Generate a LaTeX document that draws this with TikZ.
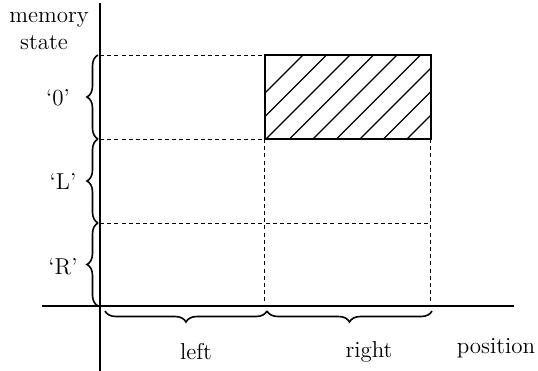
\documentclass[tikz,border=0pt]{standalone}
\usetikzlibrary{decorations.pathreplacing}
\begin{document}
\begin{tikzpicture}[x=0.5pt,y=-0.5pt,
  axis/.style={line width=1.1pt},
  grid/.style={line width=0.5pt,dash pattern=on 2pt off 1.6pt},
  box/.style={line width=0.8pt},
  hatch/.style={line width=0.55pt},
  brc/.style={line width=0.8pt,decorate,decoration={brace,amplitude=5.5pt}},
  lbl/.style={inner sep=0pt,font=\fontsize{11.5}{13}\selectfont}]
\useasboundingbox (0,0) rectangle (538,371);
% coordinates
\coordinate (yt) at (100,3);
\coordinate (yb) at (100,371);
\coordinate (xl) at (42,306);
\coordinate (xr) at (514,306);
\coordinate (a0) at (100,55);
\coordinate (a1) at (100,139);
\coordinate (a2) at (100,223);
\coordinate (m0) at (265,55);
\coordinate (m1) at (265,139);
\coordinate (m2) at (265,223);
\coordinate (m3) at (265,306);
\coordinate (r0) at (431,55);
\coordinate (r1) at (431,139);
\coordinate (r2) at (431,223);
\coordinate (r3) at (431,306);
% dashed grid
\draw[grid] (a0) -- (m0);
\draw[grid] (a1) -- (m1);
\draw[grid] (a2) -- (r2);
\draw[grid] (m1) -- (m3);
\draw[grid] (r1) -- (r3);
% hatched box
\begin{scope}
\clip (m0) rectangle (r1);
\foreach \k in {0,...,9}
  \draw[hatch] (219+23.5*\k,139) -- ++(84,-84);
\end{scope}
\draw[box] (m0) rectangle (r1);
% axes
\draw[axis] (yt) -- (yb);
\draw[axis] (xl) -- (xr);
% left braces
\coordinate (b0) at (98,55);
\coordinate (b1) at (98,139);
\coordinate (b2) at (98,223);
\coordinate (b3) at (98,306);
\draw[brc] (b1) -- (b0);
\draw[brc] (b2) -- (b1);
\draw[brc] (b3) -- (b2);
% bottom braces
\coordinate (c0) at (105,311);
\coordinate (c1) at (267,311);
\coordinate (c2) at (432,311);
\draw[brc] (c1) -- (c0);
\draw[brc] (c2) -- (c1);
% labels
\node[lbl] (mem) at (49,20) {memory};
\node[lbl] (st) at (44,43) {state};
\node[lbl] (l0) at (58,98) {`0'};
\node[lbl] (lL) at (63,182) {`L'};
\node[lbl] (lR) at (63,267) {`R'};
\node[lbl] (left) at (196,352) {left};
\node[lbl] (right) at (369,352) {right};
\node[lbl] (pos) at (496,348) {position};
\end{tikzpicture}
\end{document}
